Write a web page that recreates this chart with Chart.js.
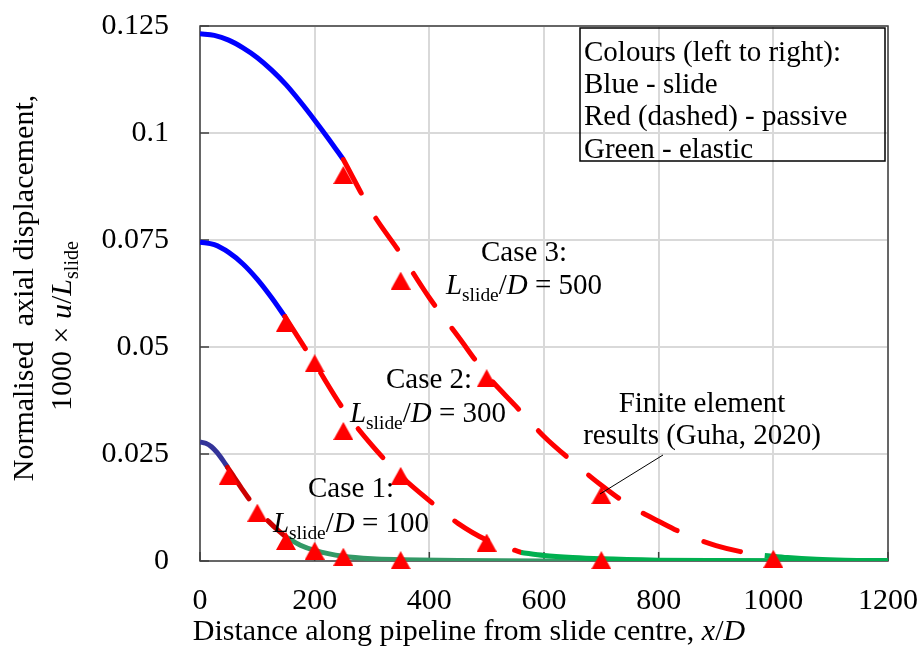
<!DOCTYPE html>
<html>
<head>
<meta charset="utf-8">
<script src="https://cdn.jsdelivr.net/npm/chart.js@4.4.1/dist/chart.umd.min.js"></script>
<style>
  html, body { margin: 0; padding: 0; background: #fff; }
  #wrap { width: 923px; height: 650px; position: relative; }
</style>
</head>
<body>
<div id="wrap"><canvas id="chart" width="923" height="650"></canvas></div>
<script>
// ── Axis ticks ────────────────────────────────────────────────
const xTicks = [0, 200, 400, 600, 800, 1000, 1200];
const yTicks = [0, 0.025, 0.05, 0.075, 0.1, 0.125];

// ── Case 1: Lslide/D = 100 ────────────────────────────────────
const c1SlideX   = [0, 10, 20, 30, 40, 48];
const c1SlideY   = [0.0278, 0.0275, 0.0267, 0.0253, 0.0235, 0.0219];
const c1PassiveX = [48, 60, 75, 90, 105, 120, 135, 150];
const c1PassiveY = [0.0219, 0.0195, 0.0165, 0.0137, 0.0113, 0.0092, 0.0073, 0.0056];
const c1ElasticX = [150, 175, 200, 250, 300, 350, 450, 600, 1200];
const c1ElasticY = [0.0056, 0.0037, 0.0025, 0.0011, 0.0005, 0.0003, 0.0001, 0, 0];
const c1FeX = [50, 100, 150, 200, 250, 350];
const c1FeY = [0.0199, 0.0113, 0.0047, 0.0024, 0.0010, 0.0002];

// ── Case 2: Lslide/D = 300 ────────────────────────────────────
const c2SlideX   = [0, 25, 50, 75, 100, 125, 148];
const c2SlideY   = [0.0745, 0.0739, 0.0721, 0.0694, 0.0658, 0.0615, 0.0571];
const c2PassiveX = [148, 200, 250, 300, 350, 400, 450, 500, 560];
const c2PassiveY = [0.0571, 0.0462, 0.0355, 0.0270, 0.0199, 0.0141, 0.0088, 0.0049, 0.0020];
const c2ElasticX = [560, 600, 650, 700, 800, 900, 1200];
const c2ElasticY = [0.0020, 0.0013, 0.0008, 0.0005, 0.0002, 0.0001, 0];
const c2FeX = [150, 200, 250, 350, 500, 700];
const c2FeY = [0.0557, 0.0462, 0.0304, 0.0199, 0.0043, 0.0002];

// ── Case 3: Lslide/D = 500 ────────────────────────────────────
const c3SlideX   = [0, 25, 50, 75, 100, 125, 150, 175, 200, 225, 250];
const c3SlideY   = [0.1232, 0.1228, 0.1217, 0.1199, 0.1176, 0.1147, 0.1113, 0.1073, 0.1030, 0.0985, 0.0938];
const c3PassiveX = [250, 300, 350, 400, 450, 500, 550, 600, 650, 700, 750, 800, 850, 900, 950, 985];
const c3PassiveY = [0.0938, 0.0815, 0.0718, 0.0615, 0.0525, 0.0435, 0.0363, 0.0291, 0.0232, 0.0177, 0.0129, 0.0093, 0.0060, 0.0036, 0.0020, 0.0013];
const c3ElasticX = [985, 1025, 1075, 1125, 1200];
const c3ElasticY = [0.0013, 0.0008, 0.0004, 0.0002, 0.0001];
const c3FeX = [250, 350, 500, 700, 1000];
const c3FeY = [0.0902, 0.0655, 0.0427, 0.0154, 0.0005];

// ── Style helpers ─────────────────────────────────────────────
const FONT = '"Liberation Serif", "Times New Roman", serif';
const pts = (xs, ys) => xs.map((x, i) => ({ x, y: ys[i] }));

function curve(xs, ys, color, dashed) {
  return {
    data: pts(xs, ys),
    showLine: true,
    borderColor: color,
    borderWidth: 5,
    borderDash: dashed ? [38, 29] : [],
    borderCapStyle: dashed ? 'round' : 'butt',
    cubicInterpolationMode: 'monotone',
    pointRadius: 0,
    fill: false
  };
}

// triangle marker centred on its bounding box (like Excel)
function triangleMarker(w, h, color) {
  const cv = document.createElement('canvas');
  cv.width = w; cv.height = h;
  const g = cv.getContext('2d');
  g.fillStyle = color;
  g.beginPath();
  g.moveTo(w / 2, 0); g.lineTo(w, h); g.lineTo(0, h);
  g.closePath(); g.fill();
  return cv;
}
const tri = triangleMarker(20, 18, '#FF0000');

function feSet(xs, ys) {
  return {
    data: pts(xs, ys),
    showLine: false,
    pointStyle: tri,
    pointRadius: 10,
    clip: false
  };
}

// rich text: parts = [{t, it, sub}]
function drawRich(ctx, parts, x, y, size, align) {
  const fontOf = p => (p.it ? 'italic ' : '') + (p.sub ? size * 0.67 : size) + 'px ' + FONT;
  let total = 0;
  parts.forEach(p => { ctx.font = fontOf(p); p.w = ctx.measureText(p.t).width; total += p.w; });
  let cx = align === 'center' ? x - total / 2 : x;
  ctx.textAlign = 'left';
  ctx.textBaseline = 'alphabetic';
  parts.forEach(p => {
    ctx.font = fontOf(p);
    ctx.fillText(p.t, cx, y + (p.sub ? size * 0.23 : 0));
    cx += p.w;
  });
}
const lslide = rest => [{ t: 'L', it: true }, { t: 'slide', sub: true }, { t: '/' }, { t: 'D', it: true }, { t: rest }];

// ── Frame, inside ticks and annotations ───────────────────────
const framePlugin = {
  id: 'frame',
  beforeDatasetsDraw(chart) {
    const { ctx, chartArea: a, scales: { x, y } } = chart;
    ctx.save();
    ctx.strokeStyle = '#404040';
    ctx.lineWidth = 1.5;
    ctx.beginPath();
    yTicks.forEach(v => { const py = y.getPixelForValue(v); ctx.moveTo(a.left, py); ctx.lineTo(a.left + 9, py); });
    xTicks.forEach(v => { const px = x.getPixelForValue(v); ctx.moveTo(px, a.bottom); ctx.lineTo(px, a.bottom - 9); });
    ctx.stroke();
    ctx.strokeRect(a.left, a.top, a.right - a.left, a.bottom - a.top);
    ctx.restore();
  },
  afterDraw(chart) {
    const { ctx } = chart;
    ctx.save();
    ctx.fillStyle = '#000';

    // axis titles
    drawRich(ctx, [{ t: 'Distance along pipeline from slide centre, ' }, { t: 'x', it: true }, { t: '/' }, { t: 'D', it: true }], 469, 640, 30, 'center');
    ctx.save();
    ctx.translate(33, 288); ctx.rotate(-Math.PI / 2);
    drawRich(ctx, [{ t: 'Normalised  axial displacement,' }], 0, 0, 30, 'center');
    ctx.restore();
    ctx.save();
    ctx.translate(71, 326); ctx.rotate(-Math.PI / 2);
    drawRich(ctx, [{ t: '1000 × ' }, { t: 'u', it: true }, { t: '/' }, { t: 'L', it: true }, { t: 'slide', sub: true }], 0, 0, 30, 'center');
    ctx.restore();

    // case labels
    drawRich(ctx, [{ t: 'Case 3:' }], 524, 261, 29, 'center');
    drawRich(ctx, lslide(' = 500'), 524, 294, 29, 'center');
    drawRich(ctx, [{ t: 'Case 2:' }], 429, 388, 29, 'center');
    drawRich(ctx, lslide(' = 300'), 428, 422, 29, 'center');
    drawRich(ctx, [{ t: 'Case 1:' }], 351, 497, 29, 'center');
    drawRich(ctx, lslide(' = 100'), 351, 532, 29, 'center');

    // FE note and leader
    drawRich(ctx, [{ t: 'Finite element' }], 702, 412, 29, 'center');
    drawRich(ctx, [{ t: 'results (Guha, 2020)' }], 702, 444, 29, 'center');
    ctx.strokeStyle = '#000';
    ctx.lineWidth = 1;
    ctx.beginPath(); ctx.moveTo(663, 455); ctx.lineTo(600, 494); ctx.stroke();

    // colour key box
    ctx.lineWidth = 1.5;
    ctx.strokeRect(580, 28, 305, 133);
    ['Colours (left to right):', 'Blue - slide', 'Red (dashed) - passive', 'Green - elastic']
      .forEach((s, i) => drawRich(ctx, [{ t: s }], 584, [61, 93, 125, 158][i], 29, 'left'));
    ctx.restore();
  }
};

// ── Chart ─────────────────────────────────────────────────────
new Chart(document.getElementById('chart'), {
  type: 'scatter',
  data: {
    datasets: [
      feSet(c3FeX, c3FeY), feSet(c2FeX, c2FeY), feSet(c1FeX, c1FeY),
      curve(c3ElasticX, c3ElasticY, '#00B050', false),
      curve(c2ElasticX, c2ElasticY, '#00B050', false),
      curve(c1ElasticX, c1ElasticY, '#339966', false),
      curve(c3PassiveX, c3PassiveY, '#FF0000', true),
      curve(c2PassiveX, c2PassiveY, '#FF0000', true),
      curve(c1PassiveX, c1PassiveY, '#CC0000', true),
      curve(c3SlideX, c3SlideY, '#0000FF', false),
      curve(c2SlideX, c2SlideY, '#0000FF', false),
      curve(c1SlideX, c1SlideY, '#333399', false)
    ]
  },
  options: {
    responsive: false,
    animation: false,
    devicePixelRatio: 1,
    layout: { padding: { top: 26, right: 35, left: 0, bottom: 0 } },
    plugins: { legend: { display: false }, tooltip: { enabled: false } },
    scales: {
      x: {
        type: 'linear', min: 0, max: 1200,
        afterBuildTicks: s => { s.ticks = xTicks.map(v => ({ value: v })); },
        afterFit: s => { s.height = 89; s.paddingLeft = 0; s.paddingRight = 0; },
        grid: { color: '#D9D9D9', lineWidth: 2, drawTicks: false },
        border: { display: false },
        ticks: { padding: 22, color: '#000', font: { family: FONT, size: 30 }, maxRotation: 0, callback: v => String(v) }
      },
      y: {
        type: 'linear', min: 0, max: 0.125,
        afterBuildTicks: s => { s.ticks = yTicks.map(v => ({ value: v })); },
        afterFit: s => { s.width = 200; s.paddingTop = 0; s.paddingBottom = 0; },
        grid: { color: '#D9D9D9', lineWidth: 2, drawTicks: false },
        border: { display: false },
        ticks: { padding: 31, color: '#000', font: { family: FONT, size: 30 }, callback: v => String(v) }
      }
    }
  },
  plugins: [framePlugin]
});
</script>
</body>
</html>
